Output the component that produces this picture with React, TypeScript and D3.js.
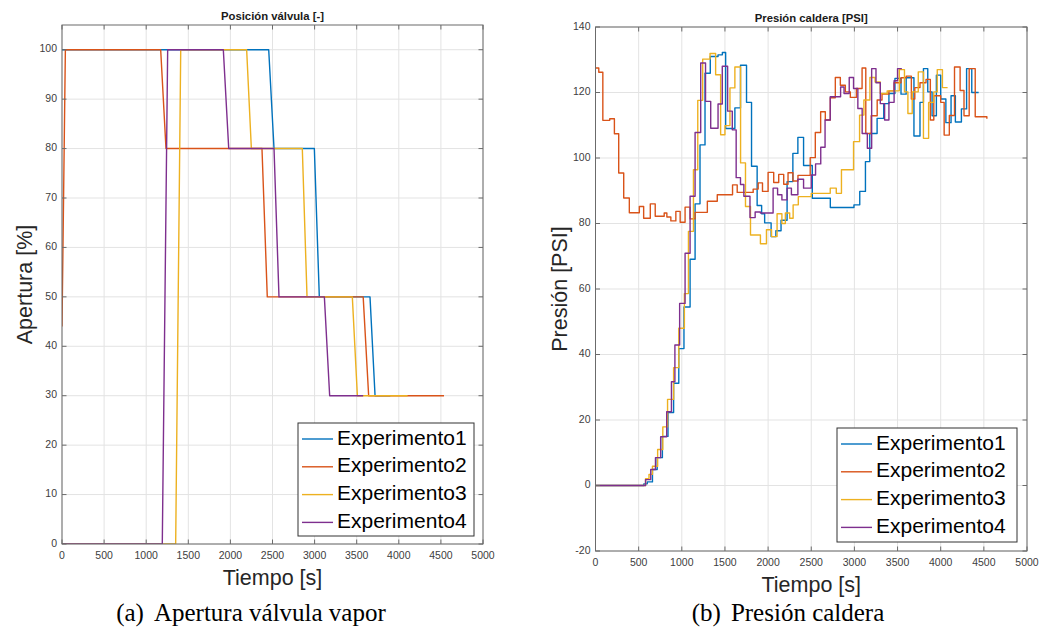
import React from 'react';
import * as d3 from 'd3';

type Pt = [number, number];

const COLORS = ['#0072BD', '#D95319', '#EDB120', '#7E2F8E'];
const SERIES_NAMES = ['Experimento1', 'Experimento2', 'Experimento3', 'Experimento4'];
const X_TICKS = [0, 500, 1000, 1500, 2000, 2500, 3000, 3500, 4000, 4500, 5000];
const VALVE_Y_TICKS = [0, 10, 20, 30, 40, 50, 60, 70, 80, 90, 100];
const PRES_Y_TICKS = [-20, 0, 20, 40, 60, 80, 100, 120, 140];

// Valve opening [%] vs time [s]
const valve1: Pt[] = [[0, 100], [2455, 100], [2518, 80], [2997, 80], [3056, 50], [3658, 50], [3718, 30], [3900, 30]];
const valve2: Pt[] = [[0, 44], [40, 100], [1172, 100], [1235, 80], [2375, 80], [2438, 50], [3577, 50], [3642, 30], [4537, 30]];
const valve3: Pt[] = [[0, 0], [1350, 0], [1410, 100], [2193, 100], [2249, 80], [2854, 80], [2910, 50], [3448, 50], [3508, 30], [4105, 30]];
const valve4: Pt[] = [[0, 0], [1191, 0], [1255, 100], [1916, 100], [1980, 80], [2518, 80], [2577, 50], [3116, 50], [3179, 30], [3577, 30]];

// Boiler pressure [PSI] vs time [s] (step samples)
const pres1: Pt[] = [[0, 0], [520, 0], [560, 0.5], [600, 1.1], [660, 4.9], [715, 8.5], [775, 15], [840, 22.3], [905, 31.2], [965, 41.8], [1025, 54.5], [1096, 69.1], [1154, 86], [1211, 104], [1269, 125.9], [1330, 131], [1420, 131.5], [1470, 132.2], [1508, 109], [1615, 115.3], [1680, 128.3], [1750, 117], [1808, 97.5], [1873, 85.5], [1925, 83], [1960, 80.2], [2035, 76], [2090, 77.8], [2150, 81], [2220, 92.8], [2287, 101.4], [2345, 106.3], [2411, 97.7], [2512, 87.7], [2721, 84.9], [2995, 85.7], [3062, 89.8], [3128, 98.9], [3178, 107.5], [3263, 112.1], [3340, 116.6], [3400, 119.7], [3470, 124.3], [3540, 119.5], [3600, 124.5], [3690, 106.7], [3760, 117], [3800, 127.3], [3850, 120.2], [3900, 112.9], [3950, 125.3], [4000, 118], [4060, 110.8], [4120, 119], [4170, 111], [4240, 115], [4300, 127.3], [4360, 120], [4440, 120]];
const pres2: Pt[] = [[0, 127.5], [38, 126.2], [85, 111.5], [165, 112], [219, 107.4], [269, 95.4], [327, 87.8], [392, 83.3], [508, 85.2], [558, 81.6], [635, 86], [692, 82.2], [796, 83.2], [827, 82], [873, 80.8], [931, 83.7], [981, 80.4], [1038, 85], [1096, 81.4], [1154, 83.4], [1296, 86.8], [1411, 88.8], [1588, 91.8], [1642, 89.5], [1827, 90.5], [1885, 92.4], [1935, 89.8], [2000, 95.6], [2065, 92.5], [2123, 95], [2181, 92], [2231, 95.5], [2288, 93], [2346, 94.7], [2488, 100.1], [2547, 107.8], [2609, 114.1], [2663, 111.6], [2721, 118.4], [2779, 124.6], [2837, 122.2], [2895, 120.2], [2953, 118.5], [3023, 121.2], [3089, 127.5], [3132, 107.5], [3194, 112.9], [3264, 117.7], [3320, 119.5], [3400, 120.5], [3460, 123], [3540, 124.5], [3600, 125], [3660, 118], [3700, 121.5], [3760, 123], [3830, 124], [3880, 111.6], [3920, 119], [4000, 117], [4040, 107], [4100, 113], [4160, 127.8], [4225, 120.6], [4270, 112.9], [4330, 127.3], [4400, 112.6], [4535, 112]];
const pres3: Pt[] = [[0, 0], [520, 0], [580, 2.1], [620, 3.4], [660, 5.9], [720, 11], [780, 17.9], [835, 26.3], [905, 36], [965, 48], [1030, 58.6], [1077, 77.6], [1135, 96.4], [1185, 117.6], [1242, 130.2], [1327, 131.9], [1392, 125.4], [1450, 107.1], [1500, 109.9], [1558, 121.4], [1615, 127.8], [1681, 98.5], [1738, 85.2], [1796, 76.5], [1911, 73.8], [1981, 78.1], [2040, 76], [2104, 83], [2160, 80], [2200, 83.2], [2250, 81.6], [2290, 85.7], [2350, 88.2], [2500, 89.2], [2720, 90.8], [2790, 89.2], [2850, 96.4], [2990, 105], [3060, 113.1], [3110, 117.7], [3180, 124.6], [3240, 123.2], [3300, 119.7], [3380, 120.5], [3520, 127], [3580, 120.2], [3620, 113.6], [3670, 120.2], [3740, 126.3], [3800, 106], [3860, 117], [3920, 120.2], [3960, 127], [4020, 121.5], [4080, 121.5]];
const pres4: Pt[] = [[0, 0], [520, 0], [580, 1.8], [640, 4.9], [695, 8.5], [755, 14.9], [825, 22.5], [880, 31.7], [920, 42.9], [975, 55.6], [1038, 70.9], [1096, 88.3], [1154, 107.8], [1219, 129], [1275, 117.3], [1335, 109.1], [1420, 116.5], [1469, 128], [1531, 114.3], [1585, 108.6], [1630, 94], [1680, 91.9], [1719, 88.3], [1790, 81.8], [1850, 83.5], [1911, 83.2], [2058, 90.8], [2110, 88.8], [2160, 87.2], [2220, 90.8], [2270, 88.8], [2345, 93.5], [2411, 90.8], [2500, 94.8], [2550, 98.2], [2610, 103.3], [2660, 111.6], [2720, 118.7], [2840, 121.7], [2880, 119.7], [2940, 124.6], [2990, 121.2], [3040, 115.1], [3090, 107.5], [3150, 103], [3200, 127.3], [3250, 123], [3300, 116.6], [3350, 111.6], [3400, 117], [3460, 123.6], [3500, 127.3], [3550, 127.3]];

const VALVE_SERIES = [valve1, valve2, valve3, valve4];
const PRES_SERIES = [pres1, pres2, pres3, pres4];

const SANS = '"Liberation Sans", Arial, Helvetica, sans-serif';
const SERIF = '"Liberation Serif", "Times New Roman", serif';

interface PlotProps {
  id: string;
  left: number; right: number; top: number; bottom: number;
  yDomain: [number, number];
  yTicks: number[];
  series: Pt[][];
  curve: d3.CurveFactory;
  title: string; titleY: number;
  yLabel: string; yLabelX: number;
  xLabel: string; xLabelY: number;
  legend: { x: number; y: number; w: number; h: number };
}

function Plot(p: PlotProps) {
  const x = d3.scaleLinear().domain([0, 5000]).range([p.left, p.right]);
  const y = d3.scaleLinear().domain(p.yDomain).range([p.bottom, p.top]);
  const line = d3.line<Pt>().x(d => x(d[0])).y(d => y(d[1])).curve(p.curve);
  const tl = 4.5;
  const cx = (p.left + p.right) / 2;
  const cy = (p.top + p.bottom) / 2;
  return (
    <g>
      <defs>
        <clipPath id={p.id}>
          <rect x={p.left} y={p.top} width={p.right - p.left} height={p.bottom - p.top} />
        </clipPath>
      </defs>
      <rect x={p.left} y={p.top} width={p.right - p.left} height={p.bottom - p.top} fill="#fff" />
      {X_TICKS.map(t => (
        <line key={'gx' + t} x1={x(t)} x2={x(t)} y1={p.top} y2={p.bottom} stroke="#e3e3e3" strokeWidth={1} />
      ))}
      {p.yTicks.map(t => (
        <line key={'gy' + t} x1={p.left} x2={p.right} y1={y(t)} y2={y(t)} stroke="#e3e3e3" strokeWidth={1} />
      ))}
      <g clipPath={`url(#${p.id})`}>
        {p.series.map((s, i) => (
          <path key={i} d={line(s) || ''} fill="none" stroke={COLORS[i]} strokeWidth={1.4} strokeLinejoin="round" />
        ))}
      </g>
      <rect x={p.left} y={p.top} width={p.right - p.left} height={p.bottom - p.top} fill="none" stroke="#6b6b6b" strokeWidth={1} />
      {X_TICKS.map(t => (
        <g key={'tx' + t}>
          <line x1={x(t)} x2={x(t)} y1={p.bottom} y2={p.bottom - tl} stroke="#6b6b6b" />
          <line x1={x(t)} x2={x(t)} y1={p.top} y2={p.top + tl} stroke="#6b6b6b" />
          <text x={x(t)} y={p.bottom + 12} textAnchor="middle" dominantBaseline="middle" fontFamily={SANS} fontSize={10.5} fill="#404040">{t}</text>
        </g>
      ))}
      {p.yTicks.map(t => (
        <g key={'ty' + t}>
          <line x1={p.left} x2={p.left + tl} y1={y(t)} y2={y(t)} stroke="#6b6b6b" />
          <line x1={p.right} x2={p.right - tl} y1={y(t)} y2={y(t)} stroke="#6b6b6b" />
          <text x={p.left - 5} y={y(t)} textAnchor="end" dominantBaseline="middle" fontFamily={SANS} fontSize={10.5} fill="#404040">{t}</text>
        </g>
      ))}
      <text x={cx} y={p.titleY} textAnchor="middle" fontFamily={SANS} fontSize={11.3} fontWeight="bold" fill="#1a1a1a">{p.title}</text>
      <text x={cx} y={p.xLabelY} textAnchor="middle" fontFamily={SANS} fontSize={21.5} fill="#262626">{p.xLabel}</text>
      <text transform={`translate(${p.yLabelX},${cy}) rotate(-90)`} textAnchor="middle" fontFamily={SANS} fontSize={21.5} fill="#262626">{p.yLabel}</text>
      <g>
        <rect x={p.legend.x} y={p.legend.y} width={p.legend.w} height={p.legend.h} fill="#fff" stroke="#333" strokeWidth={1} />
        {SERIES_NAMES.map((n, i) => {
          const ey = p.legend.y + 16 + i * 27.8;
          return (
            <g key={n}>
              <line x1={p.legend.x + 4} x2={p.legend.x + 35} y1={ey} y2={ey} stroke={COLORS[i]} strokeWidth={1.4} />
              <text x={p.legend.x + 39} y={ey} dominantBaseline="middle" fontFamily={SANS} fontSize={21} fill="#000">{n}</text>
            </g>
          );
        })}
      </g>
    </g>
  );
}

export default function App() {
  return (
    <div style={{ position: 'absolute', left: 0, top: 0 }}>
      <svg width={1041} height={629} viewBox="0 0 1041 629" style={{ display: 'block', background: '#fff' }}>
        <rect x={0} y={0} width={1041} height={629} fill="#fff" />
        <Plot
          id="clipA" left={62} right={483} top={25} bottom={544}
          yDomain={[0, 105]} yTicks={VALVE_Y_TICKS} series={VALVE_SERIES} curve={d3.curveLinear}
          title="Posición válvula [-]" titleY={20}
          yLabel="Apertura [%]" yLabelX={32}
          xLabel="Tiempo [s]" xLabelY={585}
          legend={{ x: 298, y: 423, w: 176, h: 113 }}
        />
        <Plot
          id="clipB" left={595.5} right={1027} top={27} bottom={551}
          yDomain={[-20, 140]} yTicks={PRES_Y_TICKS} series={PRES_SERIES} curve={d3.curveStepAfter}
          title="Presión caldera [PSI]" titleY={22}
          yLabel="Presión [PSI]" yLabelX={567}
          xLabel="Tiempo [s]" xLabelY={592}
          legend={{ x: 837, y: 428, w: 180, h: 114 }}
        />
        <text x={251} y={621} textAnchor="middle" fontFamily={SERIF} fontSize={25} fill="#000">
          <tspan>(a)</tspan><tspan dx={10}>Apertura válvula vapor</tspan>
        </text>
        <text x={788} y={621} textAnchor="middle" fontFamily={SERIF} fontSize={25} fill="#000">
          <tspan>(b)</tspan><tspan dx={10}>Presión caldera</tspan>
        </text>
      </svg>
    </div>
  );
}
